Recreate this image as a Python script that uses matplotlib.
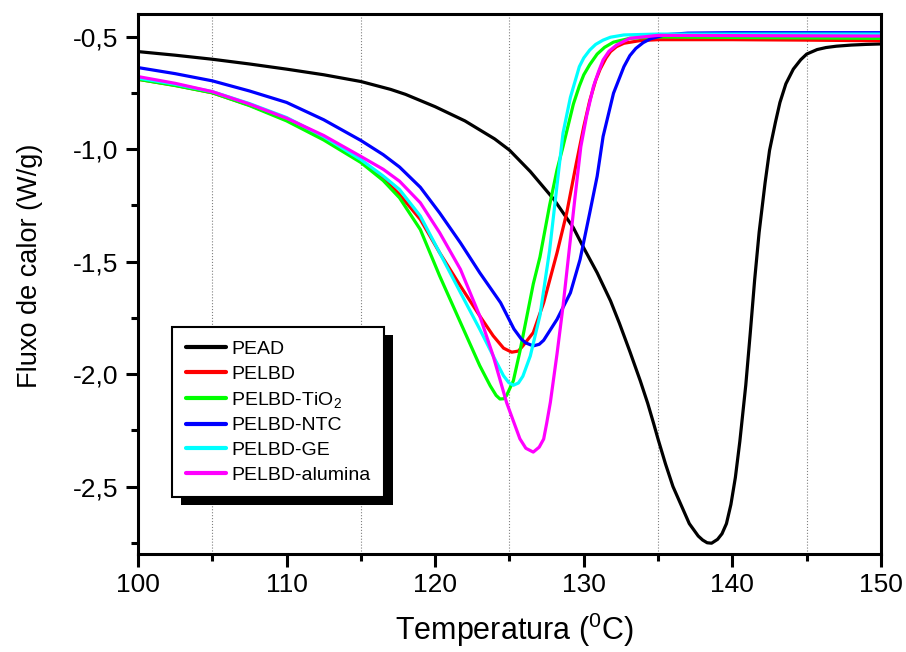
import matplotlib
matplotlib.use("Agg")
import matplotlib.pyplot as plt
from matplotlib.ticker import MultipleLocator, FuncFormatter
from matplotlib.patches import Rectangle

plt.rcParams['font.family'] = ['Liberation Sans', 'DejaVu Sans']
plt.rcParams['mathtext.fontset'] = 'custom'
plt.rcParams['mathtext.rm'] = 'Liberation Sans'
plt.rcParams['mathtext.default'] = 'regular'

# PEAD
t_pead = [100, 102.5, 105, 107.5, 110, 112.5, 115, 117, 118, 120, 122, 124, 125, 126.4,
          128, 129.3, 130, 130.9, 131.8, 132.4, 133.1, 133.8, 134.3, 134.7, 135, 135.5,
          136, 136.6, 137.1, 137.7, 138.0, 138.3, 138.6, 139.0, 139.3, 139.6, 139.9,
          140.2, 140.5, 140.9, 141.2, 141.5, 141.8, 142.2, 142.5, 142.9, 143.2, 143.6,
          144.1, 144.6, 145, 145.7, 146.3, 147, 148, 149, 150]
y_pead = [-0.567, -0.583, -0.601, -0.622, -0.645, -0.670, -0.700, -0.735, -0.757, -0.812,
          -0.875, -0.955, -1.005, -1.10, -1.225, -1.35, -1.44, -1.55, -1.675, -1.775, -1.90,
          -2.03, -2.13, -2.22, -2.29, -2.40, -2.50, -2.59, -2.665, -2.72, -2.738, -2.75,
          -2.752, -2.735, -2.71, -2.665, -2.58, -2.46, -2.30, -2.05, -1.82, -1.58, -1.37,
          -1.15, -1.006, -0.88, -0.793, -0.71, -0.645, -0.603, -0.578, -0.558, -0.549,
          -0.543, -0.538, -0.535, -0.533]

# PELBD
t_pelbd = [100, 102.5, 105, 107.5, 110, 112.5, 115, 116.5, 117.6, 119, 120.3, 121.7, 123,
           123.9, 124.6, 125.15, 125.6, 125.9, 126.6, 127.3, 128.2, 128.85, 129.5, 130,
           130.4, 130.8, 131.1, 131.5, 131.8, 132.2, 132.7, 133.8, 135, 140, 145, 150]
y_pelbd = [-0.69, -0.717, -0.75, -0.805, -0.87, -0.95, -1.055, -1.13, -1.202, -1.313,
           -1.461, -1.609, -1.742, -1.83, -1.885, -1.903, -1.898, -1.875, -1.816, -1.683,
           -1.461, -1.284, -1.062, -0.90, -0.785, -0.695, -0.645, -0.595, -0.567, -0.545,
           -0.53, -0.518, -0.514, -0.514, -0.516, -0.519]

# PELBD-TiO2
t_tio2 = [100, 102.5, 105, 107.5, 110, 112.5, 115, 116.5, 117.6, 119, 120.3, 121.7, 123,
          123.7, 124.1, 124.36, 124.6, 124.8, 125.26, 125.7, 126.15, 126.6, 127.05, 127.7,
          128.2, 128.6, 129.3, 129.7, 130, 130.4, 130.9, 131.4, 132, 133.1, 135, 140, 145,
          150]
y_tio2 = [-0.69, -0.718, -0.75, -0.807, -0.875, -0.96, -1.06, -1.14, -1.217, -1.358,
          -1.564, -1.771, -1.963, -2.052, -2.095, -2.111, -2.11, -2.096, -2.03, -1.90,
          -1.75, -1.60, -1.48, -1.25, -1.092, -0.99, -0.80, -0.72, -0.67, -0.625, -0.578,
          -0.548, -0.525, -0.508, -0.502, -0.504, -0.506, -0.508]

# PELBD-NTC
t_ntc = [100, 102.5, 105, 107.5, 110, 112.5, 115, 116.5, 117.6, 119, 120.3, 121.7, 123,
         124.4, 125.3, 125.8, 126.1, 126.6, 127.0, 127.3, 128.2, 129.1, 129.75, 130.4,
         130.9, 131.3, 132, 132.7, 133.1, 133.5, 134, 134.5, 135.5, 137, 140, 145, 150]
y_ntc = [-0.638, -0.665, -0.697, -0.742, -0.793, -0.87, -0.962, -1.025, -1.08, -1.17,
         -1.284, -1.417, -1.55, -1.683, -1.80, -1.845, -1.862, -1.875, -1.868, -1.85,
         -1.757, -1.639, -1.491, -1.284, -1.121, -0.944, -0.752, -0.634, -0.585, -0.553,
         -0.527, -0.51, -0.492, -0.485, -0.483, -0.483, -0.483]

# PELBD-GE
t_ge = [100, 102.5, 105, 107.5, 110, 112.5, 115, 116.5, 117.6, 119, 120.3, 121.7, 123,
        123.9, 124.6, 124.95, 125.26, 125.6, 125.9, 126.4, 127.05, 127.7, 128.2, 128.6,
        129.1, 129.7, 130.0, 130.4, 130.8, 131.3, 131.8, 132.7, 135, 140, 145, 150]
y_ge = [-0.685, -0.712, -0.745, -0.798, -0.86, -0.945, -1.047, -1.12, -1.18, -1.298,
        -1.461, -1.638, -1.801, -1.919, -2.008, -2.038, -2.05, -2.04, -2.01, -1.92,
        -1.74, -1.45, -1.16, -0.93, -0.77, -0.634, -0.595, -0.56, -0.535, -0.516,
        -0.503, -0.493, -0.489, -0.489, -0.489, -0.489]

# PELBD-alumina
t_alu = [100, 102.5, 105, 107.5, 110, 112.5, 115, 116.5, 117.6, 119, 120.3, 121.7, 123,
         123.9, 124.8, 125.7, 126.1, 126.6, 127.0, 127.3, 127.5, 127.75, 128.2, 128.6,
         129.0, 129.4, 129.8, 130.2, 130.65, 131.0, 131.3, 131.7, 132.2, 133.1, 135, 140,
         145, 150]
y_alu = [-0.678, -0.708, -0.745, -0.8, -0.863, -0.94, -1.033, -1.09, -1.143, -1.239,
         -1.372, -1.535, -1.742, -1.919, -2.126, -2.288, -2.33, -2.347, -2.325, -2.289,
         -2.22, -2.126, -1.91, -1.70, -1.46, -1.22, -0.99, -0.85, -0.722, -0.655, -0.604,
         -0.565, -0.538, -0.508, -0.495, -0.496, -0.497, -0.498]

fig = plt.figure(figsize=(9.06, 6.52), dpi=100)
ax = fig.add_axes([0.1523, 0.1503, 0.8201, 0.8282])

kw = dict(lw=2.3, solid_joinstyle='round', solid_capstyle='round')
ax.plot(t_pead, y_pead, color='black', label='PEAD', **kw)
ax.plot(t_pelbd, y_pelbd, color='#ff0000', label='PELBD', **kw)
ax.plot(t_tio2, y_tio2, color='#00ff00', label='PELBD-TiO$_2$', **kw)
ax.plot(t_ntc, y_ntc, color='#0000ff', label='PELBD-NTC', **kw)
ax.plot(t_ge, y_ge, color='#00ffff', label='PELBD-GE', **kw)
ax.plot(t_alu, y_alu, color='#ff00ff', label='PELBD-alumina', **kw)

ax.set_xlim(100, 150)
ax.set_ylim(-2.8, -0.4)
ax.xaxis.set_major_locator(MultipleLocator(10))
ax.xaxis.set_minor_locator(MultipleLocator(5))
ax.yaxis.set_major_locator(MultipleLocator(0.5))
ax.yaxis.set_minor_locator(MultipleLocator(0.25))
ax.yaxis.set_major_formatter(FuncFormatter(lambda v, p: ('%.1f' % v).replace('.', ',')))
ax.xaxis.set_major_formatter(FuncFormatter(lambda v, p: '%d' % v))

ax.tick_params(which='major', direction='out', length=9, width=2.2, labelsize=19, pad=5)
ax.tick_params(which='minor', direction='out', length=5, width=2.2)
ax.tick_params(top=False, right=False)
for s in ax.spines.values():
    s.set_linewidth(2.2)

ax.grid(which='minor', axis='x', linestyle=':', color='gray', lw=0.8)
ax.set_axisbelow(True)

ax.set_xlabel('Temperatura ($^0$C)', fontsize=22)
ax.xaxis.set_label_coords(0.507, -0.105)
ax.xaxis.label.set_va('top')
ax.set_ylabel('Fluxo de calor (W/g)', fontsize=19.5)
ax.yaxis.set_label_coords(-0.128, 0.533)

leg = ax.legend(loc='upper left', bbox_to_anchor=(0.0458, 0.4204), borderaxespad=0,
                fontsize=14, frameon=True, fancybox=False, handlelength=2.1,
                handletextpad=0.25, labelspacing=0.36, borderpad=0.7)
leg.get_frame().set_edgecolor('black')
leg.get_frame().set_linewidth(1.5)
leg.get_frame().set_alpha(1)
for h in leg.get_lines():
    h.set_linewidth(3)
leg.set_zorder(6)

# black drop shadow behind the legend box
fig.canvas.draw()
bb = leg.get_window_extent().transformed(fig.transFigure.inverted())
dx, dy = 9 / 906, 8 / 652
ax.add_artist(Rectangle((bb.x0 + dx, bb.y0 - dy), bb.width, bb.height,
                        transform=fig.transFigure, facecolor='black', edgecolor='none',
                        zorder=5.5, clip_on=False))

fig.savefig('out.png', dpi=100)
